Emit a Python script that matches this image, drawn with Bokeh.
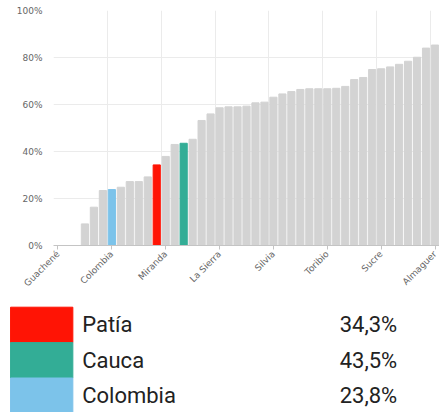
import math
from bokeh.plotting import figure
from bokeh.layouts import column
from bokeh.models import FixedTicker, Range1d, ColumnDataSource
from bokeh.core.properties import value
from bokeh.embed import file_html
from bokeh.resources import INLINE

# ---------------- data ----------------
values = [0, 0, 0, 9.2, 16.3, 23.4, 23.8, 24.8, 27.2, 27.2, 29.2, 34.3, 37.9, 43.0,
          43.5, 45.2, 53.2, 56.0, 58.6, 59.0, 59.0, 59.3, 60.7, 61.0, 63.1, 64.5,
          65.5, 66.4, 66.7, 66.7, 66.7, 66.9, 67.7, 70.6, 71.5, 74.9, 75.2, 76.0,
          77.1, 78.4, 80.1, 84.0, 85.3]
tick_labels = ["Guachené", "Colombia", "Miranda", "La Sierra", "Silvia",
               "Toribio", "Sucre", "Almaguer"]
label_step = 6
highlight_index = {6: "#7cc3ea", 11: "#ff1405", 14: "#33ad96"}
y_ticks = [0, 20, 40, 60, 80, 100]

legend_names = ["Patía", "Cauca", "Colombia"]
legend_values = [34.3, 43.5, 23.8]
legend_colors = ["#ff1405", "#33ad96", "#7cc3ea"]

GRAY = "#d3d3d3"
W = 439
LEFT = 53

# ---------------- bar chart ----------------
idx = list(range(len(values)))
colors = [highlight_index.get(i, GRAY) for i in idx]
src = ColumnDataSource(dict(x=idx, top=values, color=colors))

p = figure(width=W, height=298, output_backend="svg", toolbar_location=None,
           x_range=Range1d(-0.5, len(values) - 0.5), y_range=Range1d(0, 100))
p.min_border_left = LEFT
p.min_border_right = 0
p.min_border_top = 10
p.min_border_bottom = 53
p.outline_line_color = None
p.background_fill_color = "white"
p.border_fill_color = "white"

p.vbar(x="x", top="top", width=0.8, color="color", source=src)

tick_pos = [i * label_step for i in range(len(tick_labels))]
p.xaxis.ticker = FixedTicker(ticks=tick_pos)
p.xaxis.major_label_overrides = {t: lab for t, lab in zip(tick_pos, tick_labels)}
p.xaxis.major_label_orientation = math.pi / 4
p.xaxis.major_label_text_font = "DejaVu Sans"
p.xaxis.major_label_text_font_size = "9px"
p.xaxis.major_label_text_color = "#666666"
p.xaxis.axis_line_color = "#c4c4c4"
p.xaxis.major_tick_line_color = "#c4c4c4"
p.xaxis.major_tick_out = 4
p.xaxis.major_tick_in = 0
p.xaxis.minor_tick_line_color = None
p.xaxis.major_label_standoff = 3

p.xgrid.ticker = FixedTicker(ticks=[t - 0.5 for t in tick_pos])
p.xgrid.grid_line_color = "#ebebeb"

p.yaxis.ticker = FixedTicker(ticks=y_ticks)
p.yaxis.major_label_overrides = {t: f"{t}%" for t in y_ticks}
p.yaxis.major_label_text_font = "DejaVu Sans"
p.yaxis.major_label_text_font_size = "9px"
p.yaxis.major_label_text_color = "#666666"
p.yaxis.axis_line_color = None
p.yaxis.major_tick_line_color = None
p.yaxis.minor_tick_line_color = None
p.yaxis.major_tick_out = 0
p.yaxis.major_label_standoff = 11
p.ygrid.grid_line_color = "#ebebeb"

# ---------------- legend table ----------------
LH = 114
row_h = 35.4
lsrc = ColumnDataSource(dict(
    y=[8.7 + row_h * (i + 0.5) for i in range(len(legend_names))],
    name=legend_names,
    val=[f"{v:.1f}".replace(".", ",") + "%" for v in legend_values],
    color=legend_colors,
))
# the column aligns this frame with the chart frame (starting at LEFT px),
# so map the x range to page pixels and draw on the overlay level (no clipping)
q = figure(width=W, height=LH, output_backend="svg", toolbar_location=None,
           x_range=Range1d(LEFT, W), y_range=Range1d(LH, 0),
           x_axis_location=None, y_axis_location=None)
q.min_border = 0
q.min_border_left = LEFT
q.grid.visible = False
q.outline_line_color = None
q.border_fill_color = "white"
q.background_fill_color = "white"

q.rect(x=41.2, y="y", width=62.3, height=row_h, color="color", source=lsrc,
       level="overlay")
q.text(x=81.7, y="y", text="name", source=lsrc, text_font=value("Roboto"),
       text_font_size="22px", text_color="#222222", text_baseline="middle",
       text_align="left", level="overlay")
q.text(x=396.7, y="y", text="val", source=lsrc, text_font=value("Roboto"),
       text_font_size="22px", text_color="#222222", text_baseline="middle",
       text_align="right", level="overlay")

layout = column(p, q)
open("out.html", "w").write(file_html(layout, INLINE))
